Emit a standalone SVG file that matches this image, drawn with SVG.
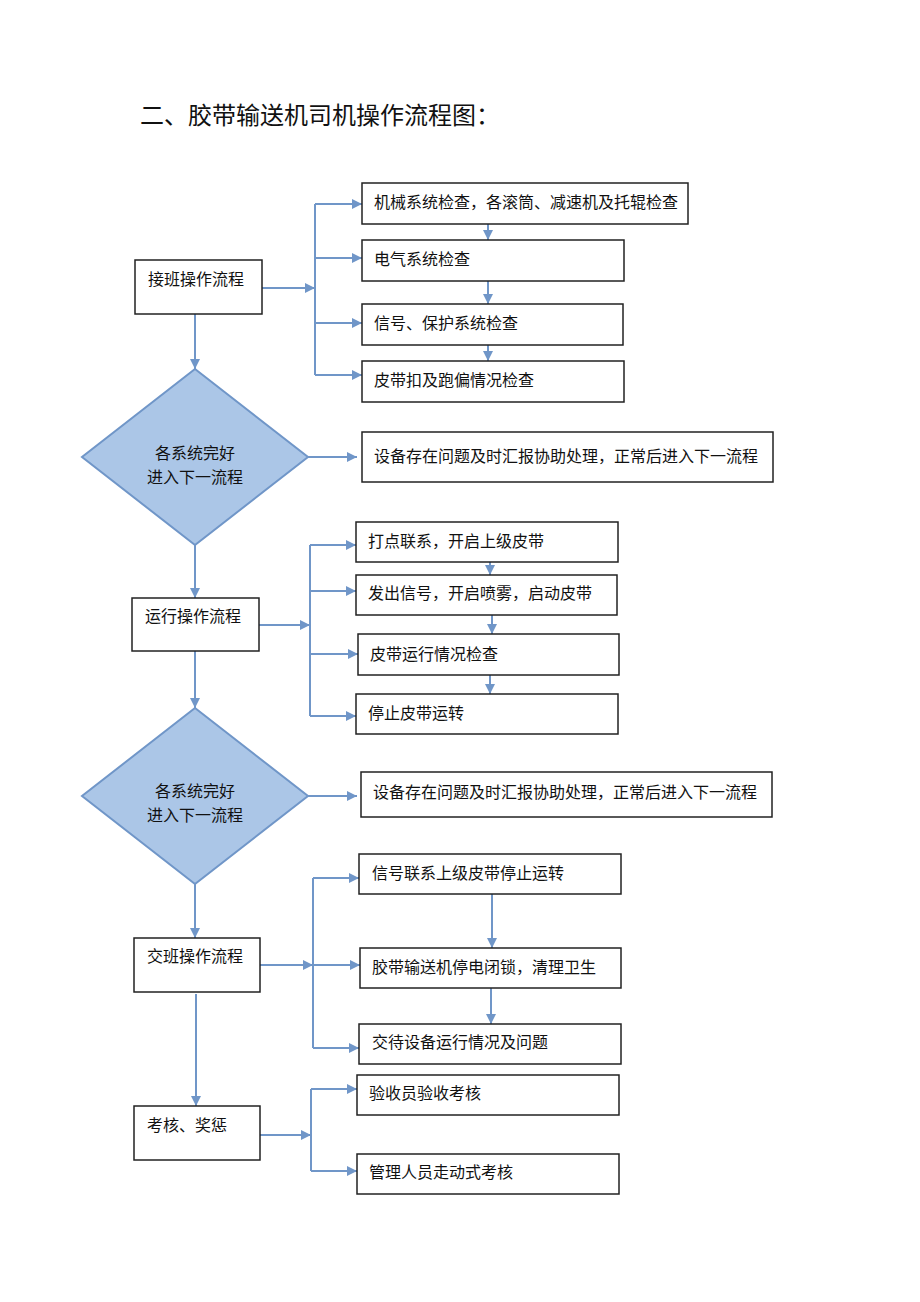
<svg xmlns="http://www.w3.org/2000/svg" width="920" height="1302" viewBox="0 0 920 1302">
<style>
.box{fill:#fff;stroke:#222;stroke-width:1.5}
.dia{fill:#abc6e7;stroke:#7096c8;stroke-width:2}
.ln{fill:none;stroke:#7096c8;stroke-width:2}
.ar{fill:none;stroke:#7096c8;stroke-width:2;marker-end:url(#ah)}
.t{font-family:"Liberation Serif","Noto Sans CJK SC",serif;font-size:16px;fill:#111}
.tc{font-family:"Liberation Serif","Noto Sans CJK SC",serif;font-size:16px;fill:#111;text-anchor:middle}
.title{font-family:"Liberation Serif","Noto Sans CJK SC",serif;font-size:24px;fill:#111}
</style>
<defs>
<marker id="ah" markerUnits="userSpaceOnUse" markerWidth="11" markerHeight="11" refX="10" refY="5" orient="auto">
<path d="M0,0 L10,5 L0,10 z" fill="#7096c8"/>
</marker>
</defs>
<rect width="920" height="1302" fill="#fff"/>
<text class="title" x="140" y="124">二、胶带输送机司机操作流程图：</text>

<g id="connectors">
<!-- section 1 -->
<line class="ar" x1="262" y1="288" x2="315" y2="288"/>
<polyline class="ln" points="315,204 315,375"/>
<line class="ar" x1="315" y1="204" x2="362" y2="204"/>
<line class="ar" x1="315" y1="258" x2="362" y2="258"/>
<line class="ar" x1="315" y1="323" x2="362" y2="323"/>
<line class="ar" x1="315" y1="375" x2="362" y2="375"/>
<line class="ar" x1="488" y1="224" x2="488" y2="240"/>
<line class="ar" x1="488" y1="281" x2="488" y2="304"/>
<line class="ar" x1="488" y1="345" x2="488" y2="361"/>
<line class="ar" x1="195" y1="314" x2="195" y2="369"/>
<line class="ar" x1="308" y1="457" x2="357" y2="457"/>
<line class="ar" x1="195" y1="545" x2="195" y2="598"/>
<!-- section 2 -->
<line class="ar" x1="259" y1="625" x2="310" y2="625"/>
<polyline class="ln" points="310,545 310,716"/>
<line class="ar" x1="310" y1="545" x2="356" y2="545"/>
<line class="ar" x1="310" y1="591" x2="356" y2="591"/>
<line class="ar" x1="310" y1="654" x2="358" y2="654"/>
<line class="ar" x1="310" y1="716" x2="356" y2="716"/>
<line class="ar" x1="490" y1="562" x2="490" y2="575"/>
<line class="ar" x1="492" y1="615" x2="492" y2="634"/>
<line class="ar" x1="490" y1="675" x2="490" y2="694"/>
<line class="ar" x1="195" y1="651" x2="195" y2="708"/>
<line class="ar" x1="308" y1="796" x2="357" y2="796"/>
<line class="ar" x1="195" y1="884" x2="195" y2="938"/>
<!-- section 3 -->
<line class="ar" x1="260" y1="965" x2="313" y2="965"/>
<polyline class="ln" points="313,878 313,1048"/>
<line class="ar" x1="313" y1="878" x2="359" y2="878"/>
<line class="ar" x1="313" y1="965" x2="360" y2="965"/>
<line class="ar" x1="313" y1="1048" x2="359" y2="1048"/>
<line class="ar" x1="492" y1="894" x2="492" y2="948"/>
<line class="ar" x1="491" y1="988" x2="491" y2="1024"/>
<line class="ar" x1="196" y1="994" x2="196" y2="1106"/>
<!-- section 4 -->
<line class="ar" x1="260" y1="1135" x2="311" y2="1135"/>
<polyline class="ln" points="311,1089 311,1171"/>
<line class="ar" x1="311" y1="1089" x2="357" y2="1089"/>
<line class="ar" x1="311" y1="1171" x2="357" y2="1171"/>
</g>

<g id="n-jieban"><rect class="box" x="135" y="260" width="127" height="54"/><text class="t" x="148" y="285">接班操作流程</text></g>
<g id="n-jixie"><rect class="box" x="362" y="183" width="326" height="41"/><text class="t" x="374" y="208">机械系统检查，各滚筒、减速机及托辊检查</text></g>
<g id="n-dianqi"><rect class="box" x="362" y="240" width="262" height="41"/><text class="t" x="374" y="265">电气系统检查</text></g>
<g id="n-xinhao"><rect class="box" x="362" y="304" width="261" height="41"/><text class="t" x="374" y="329">信号、保护系统检查</text></g>
<g id="n-pidaikou"><rect class="box" x="362" y="361" width="262" height="41"/><text class="t" x="374" y="386">皮带扣及跑偏情况检查</text></g>
<g id="n-dia1"><polygon class="dia" points="195,369 308,457 195,545 82,457"/><text class="tc" x="195" y="459">各系统完好</text><text class="tc" x="195" y="483">进入下一流程</text></g>
<g id="n-wenti1"><rect class="box" x="362" y="432" width="411" height="50"/><text class="t" x="374" y="462">设备存在问题及时汇报协助处理，正常后进入下一流程</text></g>

<g id="n-yunxing"><rect class="box" x="132" y="598" width="127" height="53"/><text class="t" x="145" y="622">运行操作流程</text></g>
<g id="n-dadian"><rect class="box" x="356" y="522" width="262" height="40"/><text class="t" x="368" y="547">打点联系，开启上级皮带</text></g>
<g id="n-fachu"><rect class="box" x="356" y="575" width="261" height="40"/><text class="t" x="368" y="599">发出信号，开启喷雾，启动皮带</text></g>
<g id="n-yunxingjc"><rect class="box" x="358" y="634" width="261" height="41"/><text class="t" x="370" y="660">皮带运行情况检查</text></g>
<g id="n-tingzhi"><rect class="box" x="356" y="694" width="262" height="40"/><text class="t" x="368" y="719">停止皮带运转</text></g>
<g id="n-dia2"><polygon class="dia" points="195,708 308,796 195,884 82,796"/><text class="tc" x="195" y="797">各系统完好</text><text class="tc" x="195" y="821">进入下一流程</text></g>
<g id="n-wenti2"><rect class="box" x="361" y="772" width="411" height="45"/><text class="t" x="373" y="798">设备存在问题及时汇报协助处理，正常后进入下一流程</text></g>

<g id="n-jiaoban"><rect class="box" x="134" y="938" width="126" height="54"/><text class="t" x="147" y="962">交班操作流程</text></g>
<g id="n-xinhaolianxi"><rect class="box" x="359" y="854" width="262" height="40"/><text class="t" x="372" y="879">信号联系上级皮带停止运转</text></g>
<g id="n-tingdian"><rect class="box" x="360" y="948" width="261" height="40"/><text class="t" x="372" y="973">胶带输送机停电闭锁，清理卫生</text></g>
<g id="n-jiaodai"><rect class="box" x="359" y="1024" width="262" height="40"/><text class="t" x="372" y="1048">交待设备运行情况及问题</text></g>

<g id="n-kaohe"><rect class="box" x="134" y="1106" width="126" height="54"/><text class="t" x="147" y="1131">考核、奖惩</text></g>
<g id="n-yanshou"><rect class="box" x="357" y="1075" width="262" height="40"/><text class="t" x="369" y="1099">验收员验收考核</text></g>
<g id="n-guanli"><rect class="box" x="357" y="1154" width="262" height="40"/><text class="t" x="369" y="1178">管理人员走动式考核</text></g>
</svg>
